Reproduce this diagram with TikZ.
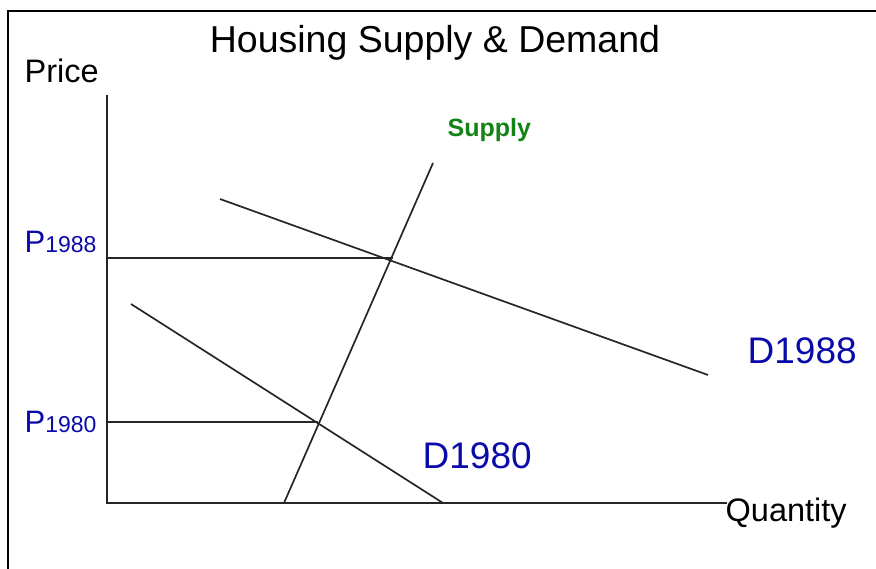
\documentclass[tikz,border=0pt]{standalone}
\usepackage{fontspec}
\setmainfont{Liberation Sans}
\usepackage{xcolor}
\definecolor{priceblue}{RGB}{10,10,170}
\definecolor{supplygreen}{RGB}{20,130,20}
\usetikzlibrary{calc}
\newcommand{\fsz}[1]{\fontsize{#1}{#1}\selectfont}

\begin{document}
\begin{tikzpicture}[x=1pt, y=-1pt, line width=1.4pt,
  lbl/.style={inner sep=0pt, anchor=base west},
  curve/.style={draw, line width=1.7pt, black!85}]
  \useasboundingbox (0,0) rectangle (876,569);
  % frame
  \draw[line width=2pt] (8,569) -- (8,11) -- (876,11);
  % axes
  \coordinate (origin) at (107,503);
  \coordinate (ytop) at (107,95);
  \coordinate (xend) at (727,503);
  \draw[black!85, line width=2pt] (ytop) -- (origin) -- (xend);
  % curves
  \coordinate (s0) at (284,503);
  \coordinate (s1) at (433,163);
  \coordinate (da0) at (131,304);
  \coordinate (da1) at (443,503);
  \coordinate (db0) at (220,199);
  \coordinate (db1) at (708,375);
  \draw[curve] (s0) -- (s1);
  \draw[curve] (da0) -- (da1);
  \draw[curve] (db0) -- (db1);
  % equilibrium prices
  \coordinate (e80) at (318,422);
  \coordinate (e88) at (393,258);
  \draw[curve] (107,422) -- (e80);
  \draw[curve] (107,258) -- (e88);
  % labels
  \node[inner sep=0pt, anchor=base] (title) at (435,53) {\fsz{37.5}Housing Supply \& Demand};
  \node[lbl] (price) at (24,83) {\fsz{32.5}Price};
  \node[lbl] (qty) at (725,521) {\fsz{32.5}Quantity};
  \node[lbl, text=supplygreen] (supply) at (447,137) {\fsz{25}\bfseries Supply};
  \node[lbl, text=priceblue] (p88) at (24,253) {\fsz{31}P\fsz{23}1988};
  \node[lbl, text=priceblue] (p80) at (24,432) {\fsz{31}P\fsz{23}1980};
  \node[lbl, text=priceblue] (d88) at (747,363) {\fsz{37}D1988};
  \node[lbl, text=priceblue] (d80) at (422,468) {\fsz{37}D1980};
\end{tikzpicture}
\end{document}
